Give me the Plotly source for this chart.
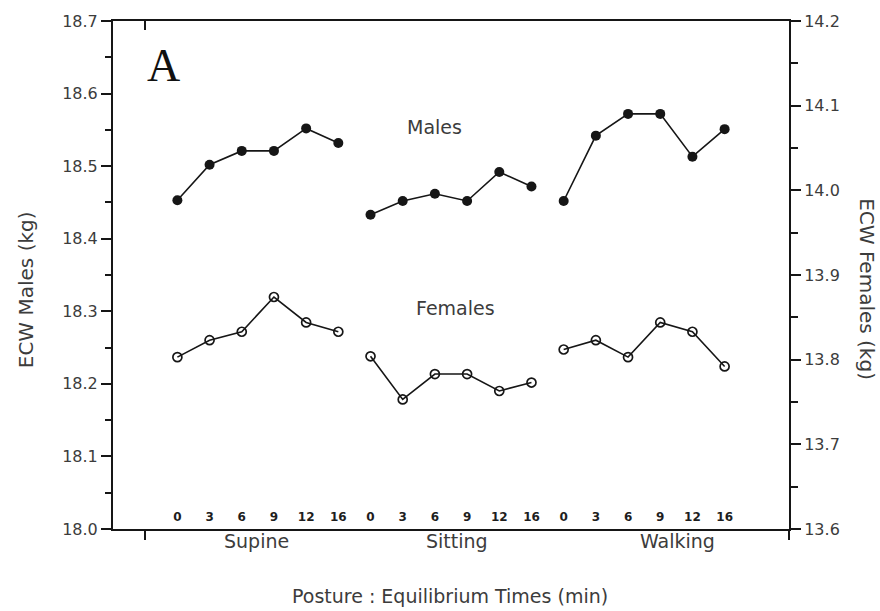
import plotly.graph_objects as go

# ---- data ----
postures = ["Supine", "Sitting", "Walking"]
times = ["0", "3", "6", "9", "12", "16"]

males_supine = [18.453, 18.502, 18.521, 18.521, 18.552, 18.532]
males_sitting = [18.433, 18.452, 18.462, 18.452, 18.492, 18.472]
males_walking = [18.452, 18.542, 18.572, 18.572, 18.513, 18.551]

females_supine = [13.803, 13.823, 13.833, 13.874, 13.844, 13.833]
females_sitting = [13.804, 13.753, 13.783, 13.783, 13.763, 13.773]
females_walking = [13.812, 13.823, 13.803, 13.844, 13.833, 13.792]

left_ticks = [18.0, 18.1, 18.2, 18.3, 18.4, 18.5, 18.6, 18.7]
right_ticks = [13.6, 13.7, 13.8, 13.9, 14.0, 14.1, 14.2]

# ---- build series: contiguous index positions, broken between postures ----
n = len(times)
xs, male_y, female_y, tickvals, ticktext = [], [], [], [], []
males = [males_supine, males_sitting, males_walking]
females = [females_supine, females_sitting, females_walking]
for g in range(len(postures)):
    for i in range(n):
        xs.append(g * n + i)
        male_y.append(males[g][i])
        female_y.append(females[g][i])
        tickvals.append(g * n + i)
        ticktext.append(times[i])
    if g < len(postures) - 1:
        xs.append(None)
        male_y.append(None)
        female_y.append(None)

INK = "#161616"
TXT = "#3c3c3c"
FONT = "DejaVu Sans, Verdana, sans-serif"
xr = [-2, 19]

fig = go.Figure()
fig.add_trace(go.Scatter(
    x=xs, y=male_y, mode="lines+markers", name="Males",
    line=dict(color=INK, width=1.6),
    marker=dict(symbol="circle", size=10, color=INK),
    connectgaps=False, xaxis="x", yaxis="y", showlegend=False,
))
fig.add_trace(go.Scatter(
    x=xs, y=female_y, mode="lines+markers", name="Females",
    line=dict(color=INK, width=1.6),
    marker=dict(symbol="circle-open", size=9, color=INK, line=dict(width=1.7)),
    connectgaps=False, xaxis="x2", yaxis="y2", showlegend=False,
))
# empty carrier trace so the time-label axis is drawn
fig.add_trace(go.Scatter(
    x=tickvals, y=[None] * len(tickvals), mode="markers",
    xaxis="x3", yaxis="y", showlegend=False, hoverinfo="skip",
))

fig.update_layout(
    width=880, height=611,
    margin=dict(l=113, r=91, t=21, b=82),
    paper_bgcolor="white", plot_bgcolor="white",
    font=dict(family=FONT, color=TXT),
    xaxis=dict(
        range=xr, showgrid=False, zeroline=False, automargin=False,
        showline=True, linecolor=INK, linewidth=2,
        tickmode="array", tickvals=[], showticklabels=False, ticks="",
        minor=dict(tickmode="array", tickvals=[-1, 19], ticks="outside",
                   ticklen=9, tickwidth=2, tickcolor=INK),
    ),
    xaxis2=dict(
        range=xr, overlaying="x", side="top", showgrid=False, zeroline=False,
        showline=True, linecolor=INK, linewidth=2, automargin=False,
        tickmode="array", tickvals=[-1], ticks="inside", ticklen=9,
        tickwidth=2, tickcolor=INK, showticklabels=False,
    ),
    xaxis3=dict(
        range=xr, overlaying="x", anchor="free", position=0.042, side="bottom",
        showgrid=False, zeroline=False, showline=False, automargin=False,
        tickmode="array", tickvals=tickvals, ticktext=ticktext, ticks="",
        tickfont=dict(size=12, color="#1e1e1e", family="DejaVu Sans, sans-serif", weight="bold"),
    ),
    yaxis=dict(
        range=[18.0, 18.7], showgrid=False, zeroline=False, automargin=False,
        showline=True, linecolor=INK, linewidth=2,
        tickmode="array", tickvals=left_ticks, tickformat=".1f",
        ticks="outside", ticklen=10, tickwidth=2, tickcolor=INK,
        tickfont=dict(size=16, color=TXT),
        minor=dict(dtick=0.05, ticks="outside", ticklen=6, tickwidth=2, tickcolor=INK),
    ),
    yaxis2=dict(
        range=[13.6, 14.2], overlaying="y", side="right", showgrid=False,
        zeroline=False, showline=True, linecolor=INK, linewidth=2, automargin=False,
        tickmode="array", tickvals=right_ticks, tickformat=".1f",
        ticks="outside", ticklen=10, tickwidth=2, tickcolor=INK,
        tickfont=dict(size=16, color=TXT),
        minor=dict(dtick=0.05, ticks="outside", ticklen=7, tickwidth=2, tickcolor=INK),
    ),
)

# posture group labels under the axis
group_label_x = [2.46, 8.7, 15.54]
for name, gx in zip(postures, group_label_x):
    fig.add_annotation(x=gx, xref="x", y=0, yref="paper", yshift=-12,
                       xanchor="center", yanchor="middle",
                       text=name, showarrow=False,
                       font=dict(size=19, color=TXT, family=FONT))

fig.add_annotation(x=0.499, xref="paper", y=-0.132, yref="paper",
                   xanchor="center", yanchor="middle",
                   text="Posture : Equilibrium Times (min)", showarrow=False,
                   font=dict(size=19, color=TXT, family=FONT))
fig.add_annotation(x=0, xref="paper", xshift=-87, y=0.47, yref="paper",
                   xanchor="center", yanchor="middle",
                   text="ECW Males (kg)", textangle=-90, showarrow=False,
                   font=dict(size=20, color=TXT, family=FONT))
fig.add_annotation(x=1.0, xref="paper", xshift=78, y=0.472, yref="paper",
                   xanchor="center", yanchor="middle",
                   text="ECW Females (kg)", textangle=90, showarrow=False,
                   font=dict(size=20, color=TXT, family=FONT))
fig.add_annotation(x=0.074, xref="paper", y=0.913, yref="paper",
                   xanchor="center", yanchor="middle",
                   text="A", showarrow=False,
                   font=dict(size=46, color="#111111", family="Liberation Serif, Times New Roman, serif"))
fig.add_annotation(x=0.475, xref="paper", y=0.791, yref="paper",
                   xanchor="center", yanchor="middle",
                   text="Males", showarrow=False,
                   font=dict(size=19, color=TXT, family=FONT))
fig.add_annotation(x=0.507, xref="paper", y=0.435, yref="paper",
                   xanchor="center", yanchor="middle",
                   text="Females", showarrow=False,
                   font=dict(size=19, color=TXT, family=FONT))

fig.write_html("out.html", config={"displayModeBar": False},
               post_script="document.body.style.margin='0px';")
